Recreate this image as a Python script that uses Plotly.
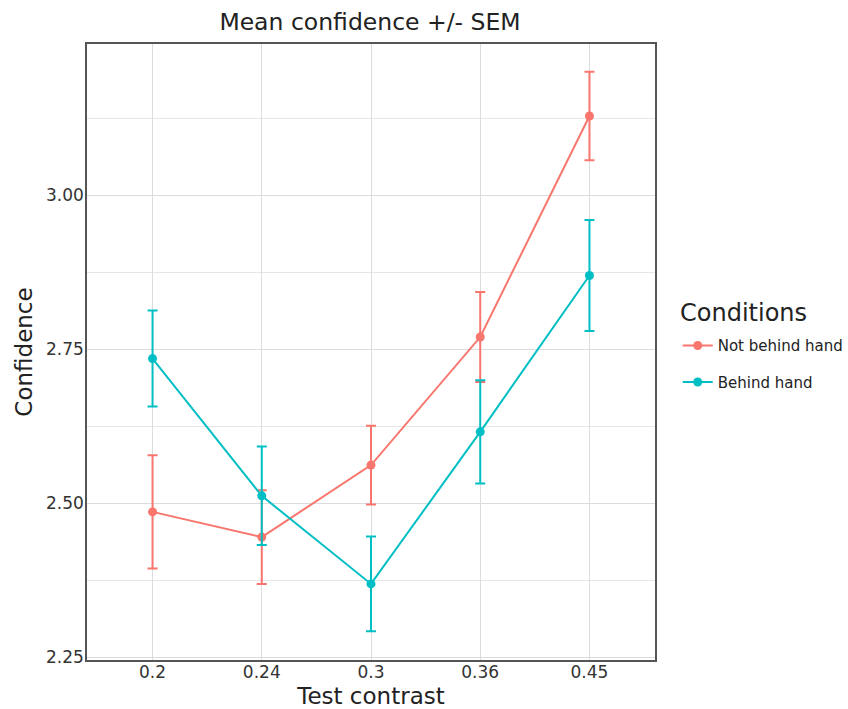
import plotly.graph_objects as go

contrasts = ["0.2", "0.24", "0.3", "0.36", "0.45"]

not_behind_mean = [2.486, 2.445, 2.562, 2.770, 3.129]
not_behind_sem = [0.092, 0.076, 0.064, 0.073, 0.072]

behind_mean = [2.735, 2.512, 2.369, 2.616, 2.870]
behind_sem = [0.078, 0.080, 0.077, 0.084, 0.090]

RED = "#F8766D"
CYAN = "#00BFC4"
FONT = "DejaVu Sans"

W, H = 848, 709

fig = go.Figure()

for name, mean, sem, color in [
    ("Not behind hand", not_behind_mean, not_behind_sem, RED),
    ("Behind hand", behind_mean, behind_sem, CYAN),
]:
    fig.add_trace(go.Scatter(
        x=contrasts,
        y=mean,
        name=name,
        legendgroup=name,
        mode="lines+markers",
        line=dict(color=color, width=2),
        marker=dict(color=color, size=9),
        error_y=dict(type="data", array=sem, visible=True,
                     color=color, thickness=2, width=5),
    ))

fig.update_layout(
    width=W,
    height=H,
    margin=dict(l=87, r=193, t=44, b=49, autoexpand=False),
    plot_bgcolor="white",
    paper_bgcolor="white",
    font=dict(family=FONT, color="#222"),
    title=dict(text="Mean confidence +/- SEM", x=370 / W,
               xanchor="center", y=1 - 22 / H, yanchor="middle",
               font=dict(size=23.5, color="#222")),
    legend=dict(
        font=dict(size=15, color="#222"),
        x=1.040, xanchor="left", y=0.537, yanchor="top",
        tracegroupgap=14,
        bgcolor="rgba(0,0,0,0)",
    ),
    showlegend=True,
)

# legend heading
fig.add_annotation(
    text="Conditions", xref="paper", yref="paper",
    x=1.040, y=0.563, xanchor="left", yanchor="middle",
    showarrow=False, font=dict(size=24, color="#222"),
)

fig.update_xaxes(
    title=dict(text="Test contrast", font=dict(size=23, color="#222"), standoff=10),
    automargin=False,
    type="category",
    range=[-0.6, 4.6],
    showgrid=True, gridcolor="#DCDCDC", gridwidth=1,
    showline=True, mirror=True, linecolor="#555", linewidth=1.5,
    ticks="", ticklabelstandoff=-4,
    tickfont=dict(size=17, color="#333"),
    zeroline=False,
)

fig.update_yaxes(
    title=dict(text="Confidence", font=dict(size=23, color="#222"), standoff=7),
    automargin=False,
    range=[2.2454, 3.246],
    tick0=2.25, dtick=0.25, tickformat=".2f",
    showgrid=True, gridcolor="#DCDCDC", gridwidth=1,
    minor=dict(dtick=0.125, showgrid=True, gridcolor="#E6E6E6", gridwidth=1),
    showline=True, mirror=True, linecolor="#555", linewidth=1.5,
    ticks="", ticklabelstandoff=-2,
    tickfont=dict(size=17, color="#333"),
    zeroline=False,
)

# drop the default page margin so the figure fills the window exactly
fig.write_html("out.html", config={"displayModeBar": False},
               post_script="document.body.style.margin='0';")
